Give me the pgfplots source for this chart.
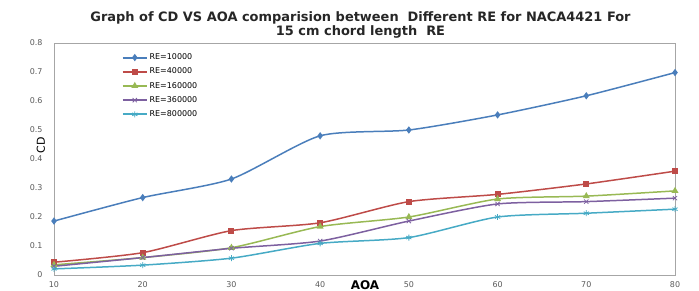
\documentclass[border=0pt]{standalone}
\usepackage{pgfplots}
\pgfplotsset{compat=1.18}
\usepackage{fontspec}
\setmainfont{DejaVu Sans}
\setsansfont{DejaVu Sans}
\definecolor{cA}{RGB}{74,126,187}
\definecolor{cB}{RGB}{190,75,72}
\definecolor{cC}{RGB}{152,185,84}
\definecolor{cD}{RGB}{125,96,160}
\definecolor{cE}{RGB}{70,170,197}
\definecolor{tk}{RGB}{90,90,90}
\begin{document}
\begin{tikzpicture}
\begin{axis}[name=ax,
  scale only axis, width=621bp, height=232bp,
  xmin=10, xmax=80, ymin=0, ymax=0.8,
  xtick={10,20,...,80}, ytick={0,0.1,...,0.8},
  /pgf/number format/assume math mode=true,
  yticklabel style={/pgf/number format/fixed, /pgf/number format/precision=1, xshift=-8bp},
  ticklabel style={font=\fontsize{8}{9}\selectfont, text=tk},
  xticklabel style={yshift=-3bp},
  major tick length=0pt,
  axis line style={draw=gray!70},
  legend style={at={(axis cs:17.3,0.777)}, anchor=north west, draw=none, fill=none,
    font=\fontsize{8}{9}\selectfont, row sep=2.8bp},
  legend image code/.code={
    \draw[#1, line width=1.9pt, mark=none] (0cm,0cm) -- (0.84cm,0cm);
    \draw[mark repeat=2,mark phase=2,#1] plot coordinates {(0cm,0cm) (0.42cm,0cm) (0.84cm,0cm)};},
  legend cell align=left,
  every axis plot/.append style={smooth, tension=0.4},
  clip=false,
]
\addplot[color=cA, line width=1.5pt, mark=diamond*, mark size=2.5pt] coordinates {(10,0.186)(20,0.267)(30,0.331)(40,0.48)(50,0.5)(60,0.552)(70,0.618)(80,0.698)};
\addlegendentry{RE=10000}
\addplot[color=cB, line width=1.5pt, mark=square*, mark size=2.2pt] coordinates {(10,0.044)(20,0.077)(30,0.153)(40,0.18)(50,0.253)(60,0.278)(70,0.314)(80,0.358)};
\addlegendentry{RE=40000}
\addplot[color=cC, line width=1.5pt, mark=triangle*, mark size=2.6pt] coordinates {(10,0.035)(20,0.06)(30,0.094)(40,0.167)(50,0.2)(60,0.262)(70,0.272)(80,0.29)};
\addlegendentry{RE=160000}
\addplot[color=cD, line width=1.5pt, mark=x, mark size=3pt, mark options={line width=0.8pt}] coordinates {(10,0.03)(20,0.06)(30,0.092)(40,0.117)(50,0.186)(60,0.245)(70,0.253)(80,0.265)};
\addlegendentry{RE=360000}
\addplot[color=cE, line width=1.5pt, mark=asterisk, mark size=3pt, mark options={line width=0.8pt}] coordinates {(10,0.021)(20,0.034)(30,0.058)(40,0.109)(50,0.129)(60,0.2)(70,0.213)(80,0.227)};
\addlegendentry{RE=800000}
\end{axis}
\node[font=\bfseries\fontsize{13}{15}\selectfont, align=center, text=black!85] at ([xshift=-4bp,yshift=18bp]ax.north) {Graph of CD VS AOA comparision between\ \ Different RE for NACA4421 For\\15 cm chord length\ \ RE};
\node[font=\fontsize{11}{11}\selectfont, rotate=90] at ([xshift=-13bp,yshift=14bp]ax.west) {CD};
\node[font=\bfseries\fontsize{12}{12}\selectfont] at ([xshift=311bp,yshift=-10bp]ax.south west) {AOA};
\pgfresetboundingbox
\path ([xshift=-54bp,yshift=-16bp]ax.south west) rectangle ([xshift=24bp,yshift=43bp]ax.north east);
\end{tikzpicture}
\end{document}
